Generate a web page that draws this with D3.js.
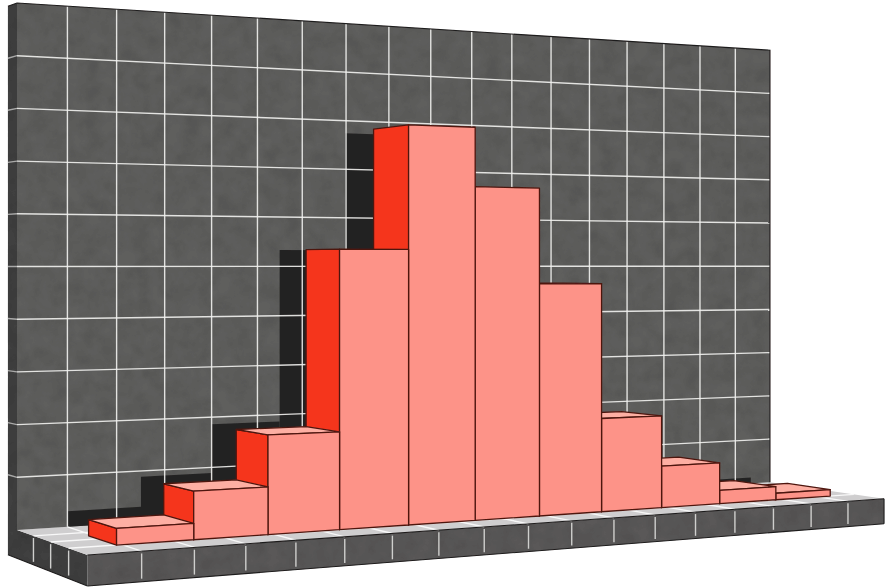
<!DOCTYPE html>
<html>
<head>
<meta charset="utf-8">
<style>html,body{margin:0;padding:0;background:#fff}svg{display:block}</style>
<script src="https://cdn.jsdelivr.net/npm/d3@7/dist/d3.min.js"></script>
</head>
<body>
<div id="chart"></div>
<script>
// Histogram bin heights, in wall grid rows
const binHeights = [0.3, 0.89, 1.86, 5.33, 7.74, 6.57, 4.65, 1.9, 0.86, 0.28, 0.14];
// Grid extents of the stage, in cells
const wallColumns = d3.range(0, 19);
const wallRows = d3.range(0, 11);
const floorRows = d3.range(0, 5);

const binStart = 0.9, binWidth = 1.494;
const barBack = 1.5, barFront = 3;
const wallThickness = 0.57, slabThickness = 0.537;

const width = 889, height = 588;

// Two-point perspective: verticals stay vertical, width and depth each run to a vanishing point
const horizonY = 265, vanishU = 4196, vanishW = -730;
const uScale = d3.scaleLinear().domain([0, 18]).range([0, 0.21978]);   // foreshortening along the wall
const wScale = d3.scaleLinear().domain([0, 4]).range([0, -0.0862]);    // foreshortening along the floor
const vScale = d3.scaleLinear().domain([0, 10]).range([265, -262]);    // height above or below eye level

function project(u, v, w) {
  const pu = uScale(u), qw = wScale(w);
  const d = 1 + pu + qw;
  return [(17 + vanishU * pu + vanishW * qw) / d, horizonY + vScale(v) / d];
}

const svg = d3.select("#chart").append("svg").attr("width", width).attr("height", height);
const defs = svg.append("defs");

// Faint mottled print texture for the dark panels
const grain = defs.append("filter").attr("id", "grain")
  .attr("x", 0).attr("y", 0).attr("width", 1).attr("height", 1);
grain.append("feTurbulence").attr("type", "fractalNoise").attr("baseFrequency", 0.06)
  .attr("numOctaves", 5).attr("seed", 7).attr("result", "noise");
grain.append("feColorMatrix").attr("in", "noise").attr("type", "matrix")
  .attr("values", "0 0 0 0 0  0 0 0 0 0  0 0 0 0 0  0.22 0.22 0 0 -0.16").attr("result", "spots");
grain.append("feComposite").attr("in", "spots").attr("in2", "SourceAlpha").attr("operator", "in").attr("result", "clipped");
grain.append("feMerge").selectAll("feMergeNode").data(["SourceGraphic", "clipped"]).join("feMergeNode").attr("in", d => d);

const soft = defs.append("filter").attr("id", "soft");
soft.append("feGaussianBlur").attr("stdDeviation", 0.4);

const line = d3.line();
const poly = pts => line(pts.map(p => project(p[0], p[1], p[2]))) + "Z";
const seg = (a, b) => line([project(...a), project(...b)]);

const root = svg.append("g").attr("filter", "url(#soft)");

const colors = {
  wall: "#5f5e5d", slabFront: "#5a5959", slabSide: "#403f3f",
  floor: "#cfcecf", gridLine: "#f2f2f0", shadow: "#242323", outline: "#1e1c1c",
  barFront: "#fd9388", barSide: "#f5361f", barTop: "#fdafa3", barLine: "#4e1710"
};

const uMax = d3.max(wallColumns), vMax = d3.max(wallRows), wMax = d3.max(floorRows);
const vLow = -slabThickness, wLow = -wallThickness;

// Slab and wall panels
root.append("path").attr("d", poly([[0, vMax, wLow], [0, vMax, 0], [0, 0, 0], [0, 0, wMax], [0, vLow, wMax], [0, vLow, wLow]]))
  .attr("fill", colors.slabSide).attr("filter", "url(#grain)");
root.append("path").attr("d", poly([[0, 0, wMax], [uMax, 0, wMax], [uMax, vLow, wMax], [0, vLow, wMax]]))
  .attr("fill", colors.slabFront).attr("filter", "url(#grain)");
root.append("path").attr("d", poly([[0, 0, 0], [uMax, 0, 0], [uMax, 0, wMax], [0, 0, wMax]]))
  .attr("fill", colors.floor);
root.append("path").attr("d", poly([[0, vMax, 0], [uMax, vMax, 0], [uMax, 0, 0], [0, 0, 0]]))
  .attr("fill", colors.wall).attr("filter", "url(#grain)");

// Shadows cast on the wall, offset slightly along its width
const shadowShift = 0.11;
const bins = binHeights.map((h, i) => ({ h, u0: binStart + i * binWidth, u1: binStart + (i + 1) * binWidth }));
root.append("g").selectAll("path").data(bins).join("path")
  .attr("d", d => poly([[d.u0 + shadowShift, d.h, 0], [d.u1 + shadowShift, d.h, 0], [d.u1 + shadowShift, 0, 0], [d.u0 + shadowShift, 0, 0]]))
  .attr("fill", colors.shadow);

// Wall grid
const grid = root.append("g").attr("stroke", colors.gridLine).attr("fill", "none").attr("stroke-width", 1.4);
grid.selectAll(".col").data(wallColumns.slice(1, -1)).join("path").attr("class", "col")
  .attr("d", u => seg([u, vMax, 0], [u, 0, 0])).attr("stroke-opacity", 0.9);
grid.selectAll(".row").data(wallRows.slice(1, -1)).join("path").attr("class", "row")
  .attr("d", v => seg([0, v, 0], [uMax, v, 0])).attr("stroke-opacity", 0.9);
grid.selectAll(".stub").data(wallRows.slice(1, -1)).join("path").attr("class", "stub")
  .attr("d", v => seg([0, v, wLow], [0, v, 0])).attr("stroke-opacity", 0.6);

// Floor grid
const floorGrid = root.append("g").attr("stroke", "#f8f8f8").attr("fill", "none").attr("stroke-width", 1.4);
floorGrid.selectAll(".fc").data(wallColumns.slice(1, -1)).join("path").attr("class", "fc")
  .attr("d", u => seg([u, 0, 0], [u, 0, wMax]));
floorGrid.selectAll(".fr").data(floorRows.slice(1, -1)).join("path").attr("class", "fr")
  .attr("d", w => seg([0, 0, w], [uMax, 0, w]));

// Ticks on the slab edges
const ticks = root.append("g").attr("stroke", "#cfcfcd").attr("fill", "none").attr("stroke-width", 1.4);
ticks.selectAll(".ft").data(wallColumns.slice(1, -1)).join("path").attr("class", "ft")
  .attr("d", u => seg([u, -0.04, wMax], [u, vLow * 0.9, wMax]));
ticks.selectAll(".st").data(floorRows.slice(1, -1)).join("path").attr("class", "st")
  .attr("d", w => seg([0, -0.04, w], [0, vLow * 0.9, w]));

// Slab outlines
const edges = root.append("g").attr("stroke", colors.outline).attr("fill", "none").attr("stroke-width", 1.1);
edges.append("path").attr("d", poly([[0, vMax, wLow], [0, vMax, 0], [uMax, vMax, 0], [uMax, 0, 0]]).replace("Z", ""));
edges.append("path").attr("d", seg([0, vLow, wLow], [0, vLow, wMax]));
edges.append("path").attr("d", seg([0, vLow, wMax], [uMax, vLow, wMax]));
edges.append("path").attr("d", seg([0, 0, wMax], [uMax, 0, wMax]));
edges.append("path").attr("d", seg([uMax, 0, wMax], [uMax, vLow, wMax]));

// Bars, painted right to left so each one hides the foot of its right-hand neighbour
const eyeLevel = 265 / 52.7;
const bars = root.append("g").attr("stroke", colors.barLine).attr("stroke-width", 1.3).attr("stroke-linejoin", "round")
  .selectAll("g").data(bins.slice().reverse()).join("g");
bars.append("path")
  .attr("d", d => poly([[d.u0, d.h, barBack], [d.u0, d.h, barFront], [d.u0, 0, barFront], [d.u0, 0, barBack]]))
  .attr("fill", colors.barSide);
bars.filter(d => d.h < eyeLevel).append("path")
  .attr("d", d => poly([[d.u0, d.h, barBack], [d.u1, d.h, barBack], [d.u1, d.h, barFront], [d.u0, d.h, barFront]]))
  .attr("fill", colors.barTop);
bars.append("path")
  .attr("d", d => poly([[d.u0, d.h, barFront], [d.u1, d.h, barFront], [d.u1, 0, barFront], [d.u0, 0, barFront]]))
  .attr("fill", colors.barFront);
</script>
</body>
</html>
